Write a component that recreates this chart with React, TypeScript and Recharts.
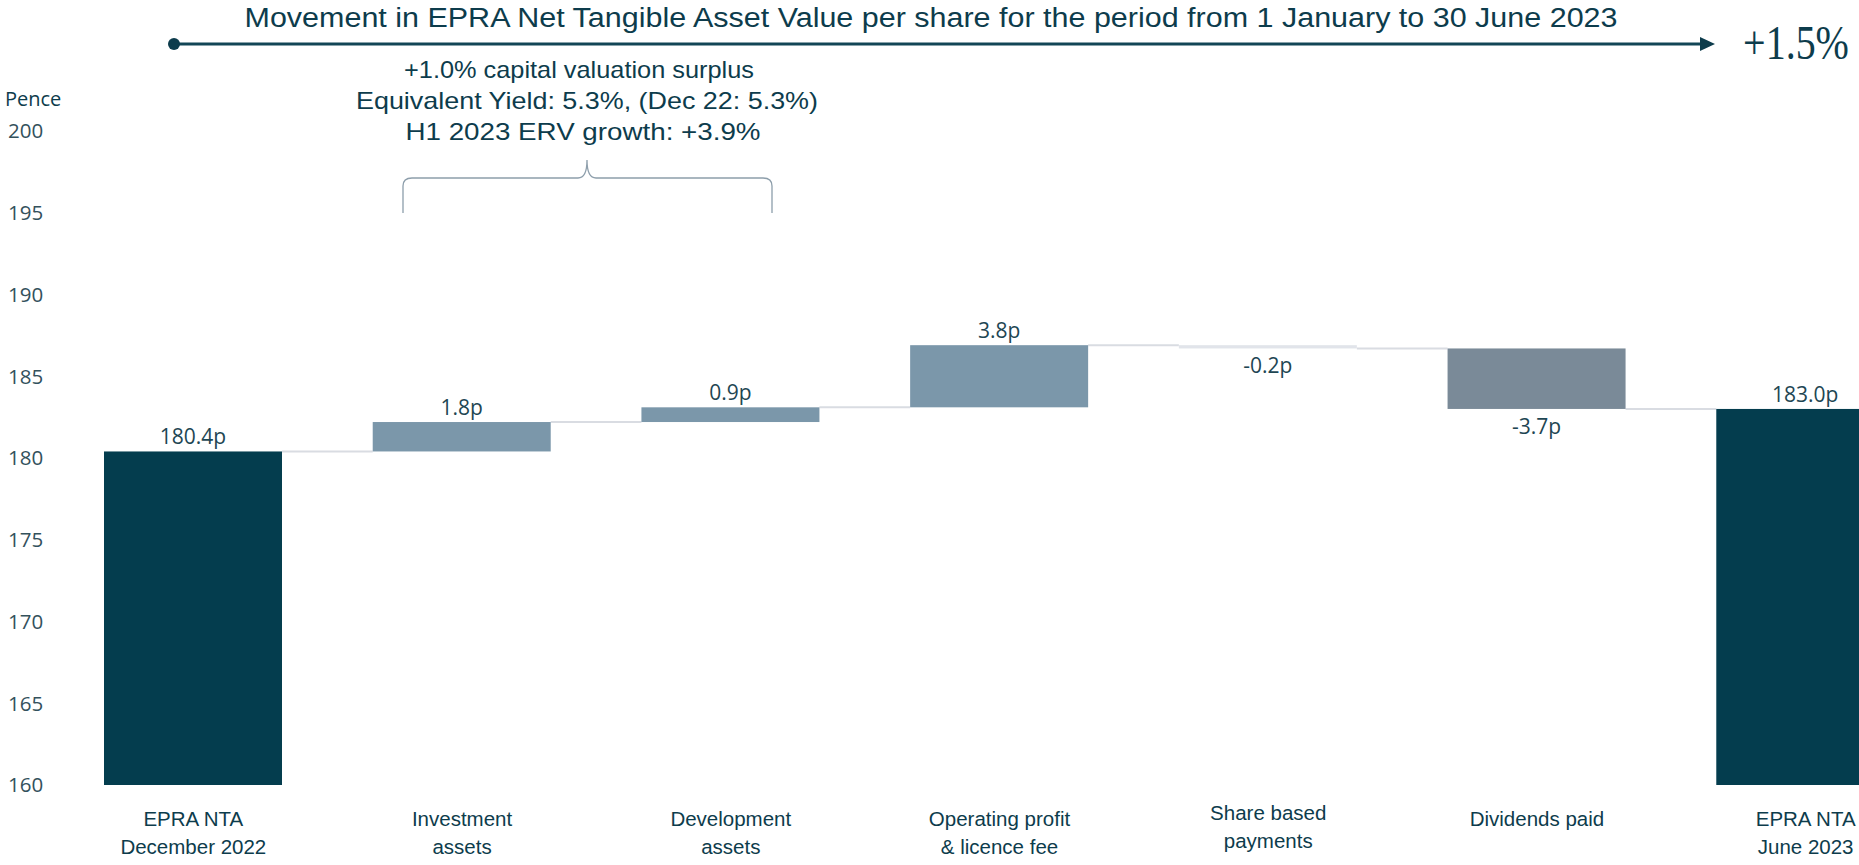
import React from "react";
import { BarChart, Bar, XAxis, YAxis } from "recharts";

const categories = [
  "EPRA NTA December 2022",
  "Investment assets",
  "Development assets",
  "Operating profit & licence fee",
  "Share based payments",
  "Dividends paid",
  "EPRA NTA June 2023",
];
const categoryLines = [
  ["EPRA NTA", "December 2022"],
  ["Investment", "assets"],
  ["Development", "assets"],
  ["Operating profit", "& licence fee"],
  ["Share based", "payments"],
  ["Dividends paid"],
  ["EPRA NTA", "June 2023"],
];
const startValue = 180.4;
const movements = [1.8, 0.9, 3.8, -0.2, -3.7];
const endValue = 183.0;
const valueLabels = ["180.4p", "1.8p", "0.9p", "3.8p", "-0.2p", "-3.7p", "183.0p"];
const yTicks = [160, 165, 170, 175, 180, 185, 190, 195, 200];
const annotationLines = [
  "+1.0% capital valuation surplus",
  "Equivalent Yield: 5.3%, (Dec 22: 5.3%)",
  "H1 2023 ERV growth: +3.9%",
];

// build waterfall rows
type Row = { name: string; range: [number, number]; kind: "total" | "up" | "down"; delta: number };
const data: Row[] = [];
data.push({ name: categories[0], range: [160, startValue], kind: "total", delta: startValue });
let running = startValue;
movements.forEach((m, i) => {
  const from = running;
  running = Math.round((running + m) * 10) / 10;
  data.push({
    name: categories[i + 1],
    range: [Math.min(from, running), Math.max(from, running)],
    kind: m >= 0 ? "up" : "down",
    delta: m,
  });
});
data.push({ name: categories[6], range: [160, endValue], kind: "total", delta: endValue });

const CHART_W = 1940;
const CHART_H = 865;
const Y_W = 59;
const BAND = (CHART_W - Y_W) / categories.length;
const DARK = "#043d4e";
const TEXT = "#0d3c4c";

function fillFor(d: Row) {
  if (d.kind === "total") return DARK;
  if (d.kind === "up") return "#7b97aa";
  if (Math.abs(d.delta) < 0.5) return "#e1e4ea";
  return "#7a8a98";
}

const WaterfallBar = (props: any) => {
  const { x, y, width, height, index } = props;
  const d = data[index];
  const top = Math.min(y, y + height);
  const h = Math.max(Math.abs(height), 2);
  const endY = d.kind === "down" ? top + h : top;
  const hasNext = index < data.length - 1;
  const cx = x + width / 2;
  const below = d.kind === "down";
  return (
    <g>
      {hasNext && (
        <line x1={x + width} x2={x + BAND} y1={endY} y2={endY} stroke="#d9dce2" strokeWidth={2} />
      )}
      <rect x={x} y={top} width={width} height={h} fill={fillFor(d)} />
      <text
        x={cx}
        y={below ? top + h + 25 : top - 7}
        textAnchor="middle"
        fontFamily="Open Sans"
        fontSize={21}
        fill="#1e4653"
      >
        {valueLabels[index]}
      </text>
    </g>
  );
};

const YTick = (props: any) => {
  const { y, payload } = props;
  return (
    <text x={8} y={y} dy="0.36em" fontFamily="Open Sans" fontSize={20.5} fill="#33515c">
      {payload.value}
    </text>
  );
};

const XTick = (props: any) => {
  const { x, payload } = props;
  const idx = categories.indexOf(payload.value);
  const lines = categoryLines[idx] || [];
  const base = idx === 4 ? 820 : 826;
  return (
    <text textAnchor="middle" fontFamily="Liberation Sans, Arial" fontSize={20.5} fill={TEXT}>
      {lines.map((l, i) => (
        <tspan key={i} x={x} y={base + i * 28}>
          {l}
        </tspan>
      ))}
    </text>
  );
};

export default function App() {
  return (
    <div style={{ position: "relative", width: 1859, height: 865, overflow: "hidden", background: "#fff" }}>
      <style>{"html,body{margin:0;padding:0;overflow:hidden}"}</style>
      <BarChart
        width={CHART_W}
        height={CHART_H}
        data={data}
        margin={{ top: 131, right: 0, bottom: 0, left: 0 }}
        barCategoryGap="17%"
      >
        <XAxis
          dataKey="name"
          axisLine={false}
          tickLine={false}
          height={80}
          interval={0}
          tick={<XTick />}
        />
        <YAxis
          domain={[160, 200]}
          ticks={yTicks}
          width={Y_W}
          axisLine={false}
          tickLine={false}
          tick={<YTick />}
        />
        <Bar dataKey="range" barSize={178} isAnimationActive={false} shape={<WaterfallBar />} />
      </BarChart>
      <svg
        width={1859}
        height={865}
        style={{ position: "absolute", left: 0, top: 0, pointerEvents: "none" }}
      >
        <text
          x={931}
          y={27}
          textAnchor="middle"
          fontFamily="Liberation Sans, Arial"
          fontSize={27}
          textLength={1373}
          lengthAdjust="spacingAndGlyphs"
          fill={TEXT}
        >
          Movement in EPRA Net Tangible Asset Value per share for the period from 1 January to 30 June 2023
        </text>
        <line x1={174} y1={44} x2={1702} y2={44} stroke="#124656" strokeWidth={3} />
        <circle cx={174} cy={44} r={6} fill="#0d3c4c" />
        <path d="M1700,37 L1715,44 L1700,51 Z" fill="#0d3c4c" />
        <text
          x={0}
          y={0}
          transform="translate(1796,59) scale(1,1.2)"
          textAnchor="middle"
          fontFamily="Liberation Serif, Times New Roman"
          fontSize={40}
          fill={TEXT}
        >
          +1.5%
        </text>
        <text x={5} y={106} fontFamily="Open Sans" fontSize={20} fill={TEXT}>
          Pence
        </text>
        {annotationLines.map((l, i) => (
          <text
            key={i}
            x={[579, 587, 583][i]}
            y={78 + i * 31}
            textAnchor="middle"
            fontFamily="Liberation Sans, Arial"
            fontSize={24}
            textLength={[350, 462, 355][i]}
            lengthAdjust="spacingAndGlyphs"
            fill={TEXT}
          >
            {l}
          </text>
        ))}
        <path
          d="M403,213 L403,186 Q403,178 412,178 L578,178 Q587,178 587,160 Q587,178 596,178 L763,178 Q772,178 772,186 L772,213"
          fill="none"
          stroke="#8d9eab"
          strokeWidth={1.3}
        />
      </svg>
    </div>
  );
}
